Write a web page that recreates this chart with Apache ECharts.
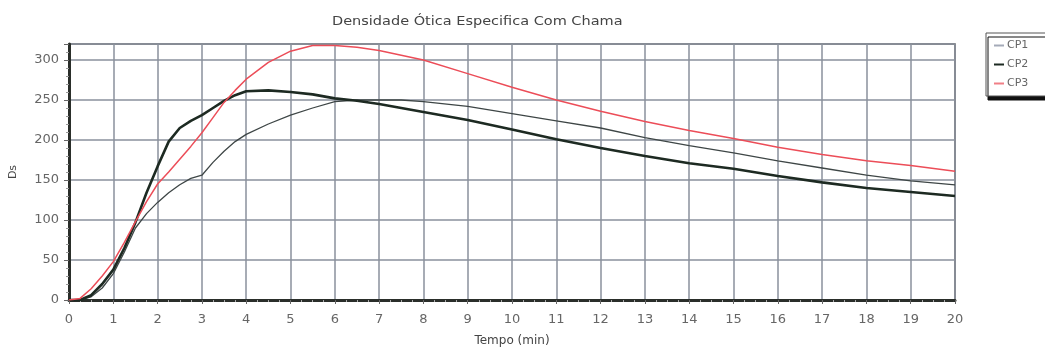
<!DOCTYPE html>
<html>
<head>
<meta charset="utf-8">
<script src="https://cdn.jsdelivr.net/npm/echarts@6/dist/echarts.min.js"></script>
<style>html,body{margin:0;padding:0;background:#fff;}#c{width:1045px;height:352px;}</style>
</head>
<body>
<div id="c"></div>
<script>
const titleText = 'Densidade Ótica Especifica Com Chama';
const xName = 'Tempo (min)';
const yName = 'Ds';
const seriesNames = ['CP1', 'CP2', 'CP3'];
const times = [0,0.25,0.5,0.75,1,1.25,1.5,1.75,2,2.25,2.5,2.75,3,3.25,3.5,3.75,4,4.5,5,5.5,6,6.5,7,7.5,8,9,10,11,12,13,14,15,16,17,18,19,20];
const cp1 = [0,0,4,15,33,60,90,108,122,134,144,152,156,172,186,198,207,220,231,240,248,250,250,250,248,242,233,224,215,203,193,184,174,165,156,149,144];
const cp2 = [0,0,6,20,38,65,97,134,167,198,215,224,231,240,249,256,261,262,260,257,252,249,245,240,235,225,213,201,190,180,171,164,155,147,140,135,130];
const cp3 = [0,2,14,30,48,72,98,123,145,160,176,192,209,228,247,262,276,297,311,318,318,316,312,306,300,283,266,250,236,223,212,202,191,182,174,168,161];

const FONT = 'DejaVu Sans';
const pair = (vals) => times.map((t, i) => [t, vals[i]]);

const chart = echarts.init(document.getElementById('c'), null, {renderer: 'canvas'});
chart.setOption({
  animation: false,
  backgroundColor: '#fff',
  textStyle: {fontFamily: FONT},
  graphic: [{
    type: 'text', x: 332, y: 15, scaleX: 1.115, scaleY: 1,
    style: {text: titleText, fontSize: 13, fill: '#444', fontFamily: FONT}
  }],
  legend: {
    orient: 'vertical', left: 986, top: 33,
    padding: [7, 40, 7, 8], itemGap: 8,
    itemWidth: 10, itemHeight: 2, icon: 'rect',
    backgroundColor: '#fff', borderColor: '#555', borderWidth: 1,
    shadowColor: '#111', shadowBlur: 0, shadowOffsetX: 2, shadowOffsetY: 4,
    textStyle: {fontSize: 11, color: '#666', fontFamily: FONT, padding: [0,0,0,-2]},
    data: [
      {name: seriesNames[0], itemStyle: {color: '#a4aab8'}},
      {name: seriesNames[1], itemStyle: {color: '#1d2a22'}},
      {name: seriesNames[2], itemStyle: {color: '#f07f86'}}
    ]
  },
  grid: {left: 66, right: 90, top: 44, bottom: 48, show: true, borderColor: '#555', borderWidth: 1.5, backgroundColor: '#fff'},
  xAxis: {
    type: 'value', min: 0, max: 20, interval: 1,
    name: xName, nameLocation: 'middle', nameGap: 35,
    nameTextStyle: {fontSize: 12, color: '#444', fontFamily: FONT},
    axisLine: {show: true, lineStyle: {color: '#2a2e2a', width: 3}},
    axisTick: {show: true, length: 4, lineStyle: {color: '#666'}},
    minorTick: {show: true, splitNumber: 4, length: 2, lineStyle: {color: '#aaa'}},
    axisLabel: {fontSize: 13, color: '#666', margin: 13, fontFamily: FONT},
    splitLine: {show: true, lineStyle: {color: '#8a909c', width: 1.5}}
  },
  yAxis: {
    type: 'value', min: 0, max: 320, interval: 50,
    name: yName, nameLocation: 'middle', nameGap: 50,
    nameTextStyle: {fontSize: 11, color: '#444', fontFamily: FONT},
    axisLine: {show: true, lineStyle: {color: '#2a2e2a', width: 3}},
    axisTick: {show: true, length: 5, lineStyle: {color: '#666'}},
    minorTick: {show: true, splitNumber: 5, length: 3, lineStyle: {color: '#999'}},
    axisLabel: {fontSize: 13, color: '#666', margin: 10, fontFamily: FONT, showMaxLabel: false,
      formatter: (v) => (v % 50 === 0 ? String(v) : '')},
    splitLine: {show: true, lineStyle: {color: '#8a909c', width: 1.5}}
  },
  series: [
    {name: seriesNames[0], type: 'line', data: pair(cp1), showSymbol: false, symbol: 'none',
     lineStyle: {color: '#3e4646', width: 1.3}, itemStyle: {color: '#a4aab8'}},
    {name: seriesNames[1], type: 'line', data: pair(cp2), showSymbol: false, symbol: 'none',
     lineStyle: {color: '#1d2a22', width: 2.6}, itemStyle: {color: '#1d2a22'}},
    {name: seriesNames[2], type: 'line', data: pair(cp3), showSymbol: false, symbol: 'none',
     lineStyle: {color: '#ec4d58', width: 1.5}, itemStyle: {color: '#f07f86'}}
  ]
});
</script>
</body>
</html>
